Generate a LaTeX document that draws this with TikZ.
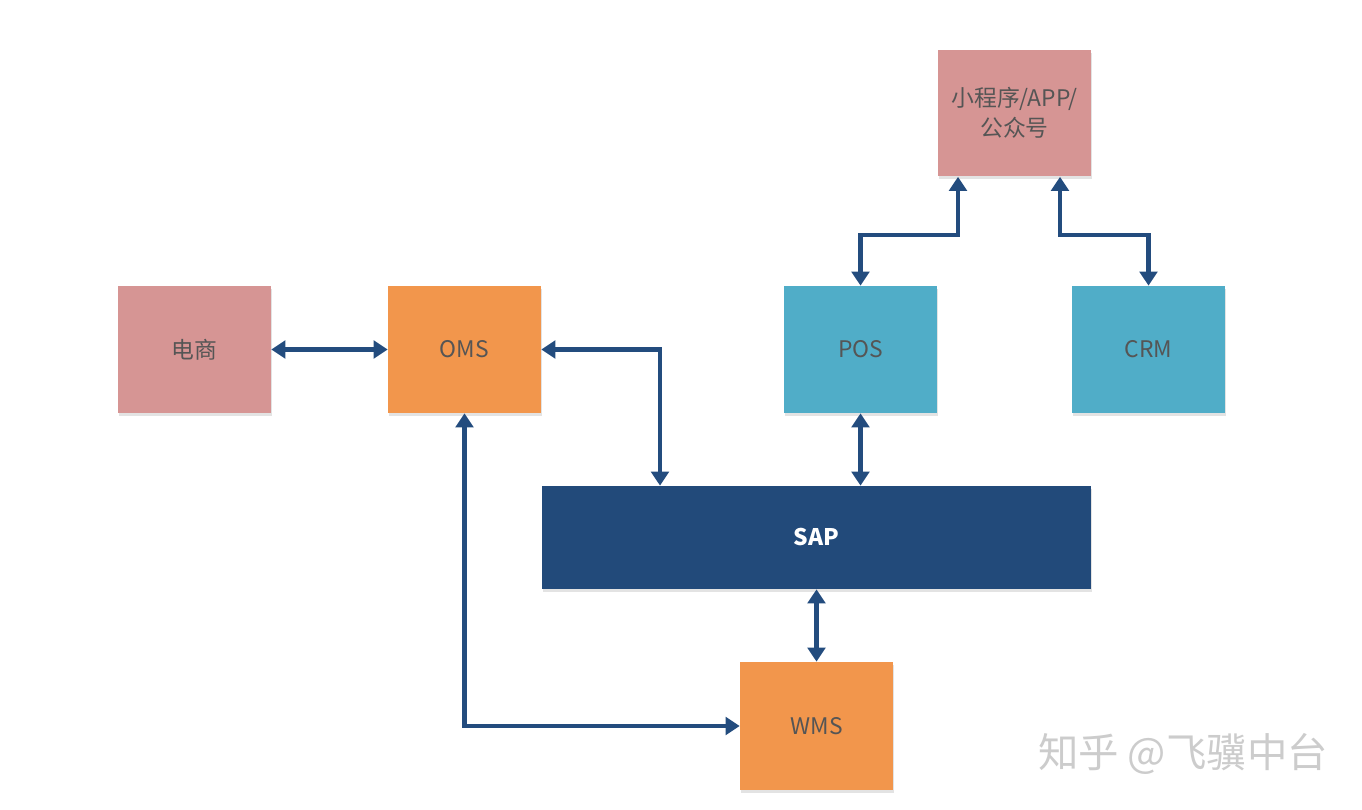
\documentclass[tikz,border=0pt]{standalone}
\usepackage{fontspec}
\setmainfont{Noto Sans CJK SC}
\usepackage{tikz}
\usetikzlibrary{arrows.meta,shadows}

\definecolor{pinkbox}{HTML}{D69594}
\definecolor{orangebox}{HTML}{F2964C}
\definecolor{tealbox}{HTML}{50ADC8}
\definecolor{navybox}{HTML}{224A7A}
\definecolor{linkblue}{HTML}{234C7E}
\definecolor{textgray}{HTML}{555555}

\tikzset{
  sysbox/.style={draw=none, minimum width=3.06cm, minimum height=2.54cm, inner sep=2pt,
    align=center, text=textgray, font=\fontsize{13}{17}\selectfont,
    drop shadow={opacity=0.22, shadow xshift=0.02cm, shadow yshift=-0.06cm}},
  link/.style={draw=linkblue, line width=2.6pt,
    {Triangle[width=10pt,length=8pt]}-{Triangle[width=10pt,length=8pt]}}
}

\begin{document}
\begin{tikzpicture}[x=0.02cm, y=-0.02cm]
\useasboundingbox (0,0) rectangle (1362,810);

\node[sysbox, fill=pinkbox] (app) at (1014.5,113) {小程序/APP/\\公众号};
\node[sysbox, fill=pinkbox] (shop) at (194.5,349.5) {电商};
\node[sysbox, fill=orangebox] (oms) at (464.5,349.5) {OMS};
\node[sysbox, fill=tealbox] (pos) at (860.5,349.5) {POS};
\node[sysbox, fill=tealbox] (crm) at (1148.5,349.5) {CRM};
\node[sysbox, fill=navybox, text=white, font=\fontsize{13}{17}\selectfont\bfseries,
  minimum width=10.98cm, minimum height=2.06cm] (sap) at (816.5,537.5) {SAP};
\node[sysbox, fill=orangebox, minimum height=2.56cm] (wms) at (816.5,726) {WMS};

\node[text=black!20, font=\fontsize{23}{26}\selectfont] (mark) at (1183,754) {知乎 @飞骥中台};

\coordinate (omsturn) at (660,349.5);
\coordinate (posturn) at (958,235);
\coordinate (crmturn) at (1060,235);

\draw[link] (shop) -- (oms);
\draw[link] (oms.east) -- (omsturn) -- (omsturn |- sap.north);
\draw[link] (pos.south) -- (pos.south |- sap.north);
\draw[link] (sap.south) -- (wms.north);
\draw[link] (oms.south) |- (wms.west);
\draw[link] (pos.north) |- (posturn) -- (posturn |- app.south);
\draw[link] (crmturn |- app.south) -- (crmturn) -| (crm.north);
\end{tikzpicture}
\end{document}
